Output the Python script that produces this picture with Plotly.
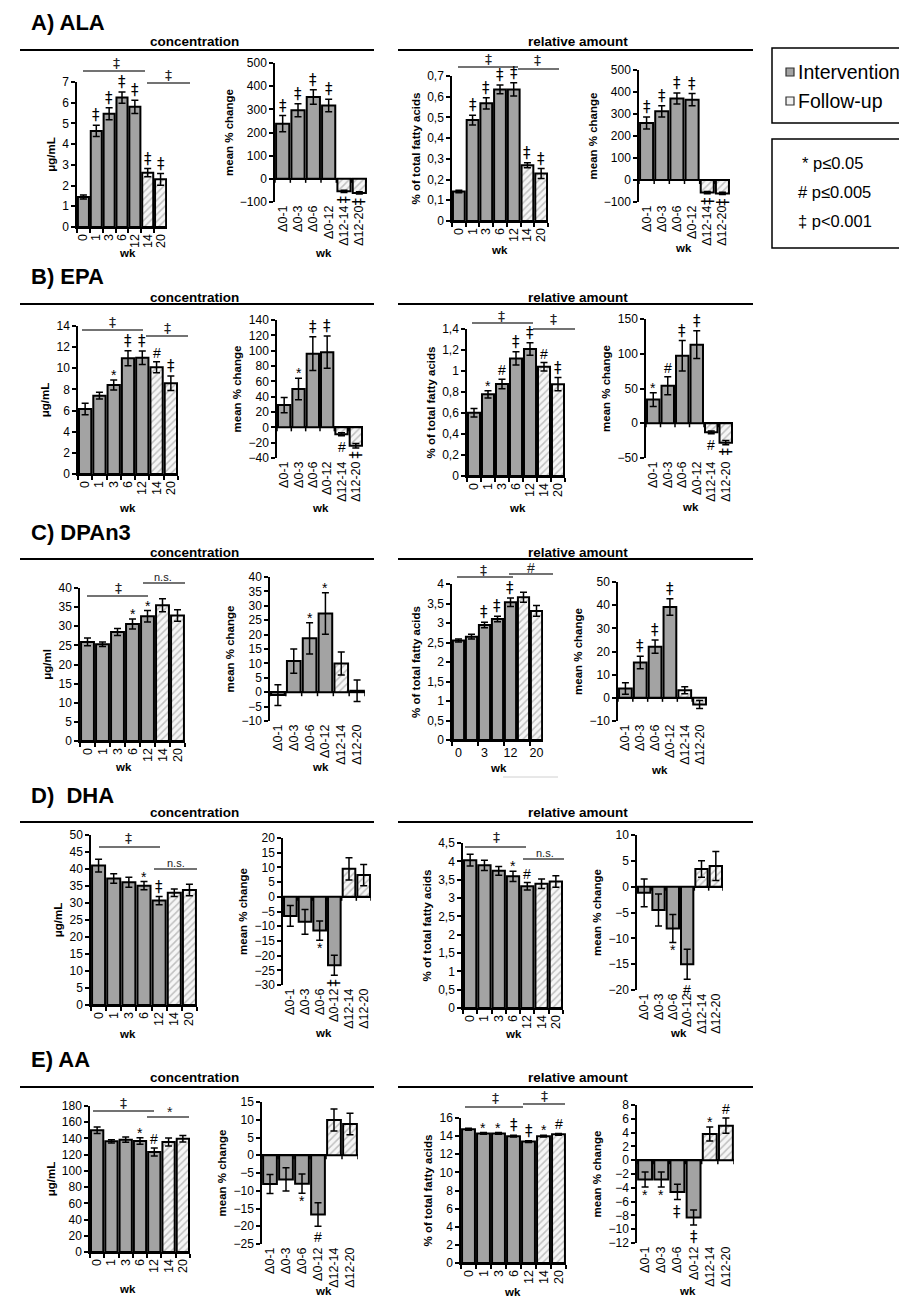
import plotly.graph_objects as go

W, H = 899, 1300
FONT = "Liberation Sans, Arial, sans-serif"
SIGFONT = "DejaVu Sans, Liberation Sans, sans-serif"

# ---------------- data ----------------
weeks = ["0", "1", "3", "6", "12", "14", "20"]
deltas = ["Δ0-1", "Δ0-3", "Δ0-6", "Δ0-12", "Δ12-14", "Δ12-20"]
week_phase = ["Intervention"] * 5 + ["Follow-up"] * 2
delta_phase = ["Intervention"] * 4 + ["Follow-up"] * 2

# A) ALA
ala_conc = [1.45, 4.64, 5.47, 6.25, 5.8, 2.62, 2.3]
ala_conc_err = [0.1, 0.27, 0.29, 0.27, 0.32, 0.2, 0.28]
ala_conc_sig = ["", "‡", "‡", "‡", "‡", "‡", "‡"]
ala_conc_chg = [238, 296, 353, 317, -54, -61]
ala_conc_chg_err = [35, 28, 31, 27, 5, 5]
ala_conc_chg_sig = ["‡", "‡", "‡", "‡", "‡", "‡"]
ala_rel = [0.142, 0.487, 0.568, 0.635, 0.635, 0.269, 0.229]
ala_rel_err = [0.006, 0.024, 0.027, 0.021, 0.032, 0.012, 0.024]
ala_rel_sig = ["", "‡", "‡", "‡", "‡", "‡", "‡"]
ala_rel_chg = [259, 312, 370, 365, -57, -61]
ala_rel_chg_err = [27, 26, 25, 28, 5, 5]
ala_rel_chg_sig = ["‡", "‡", "‡", "‡", "‡", "‡"]

# B) EPA
epa_conc = [6.15, 7.41, 8.42, 10.95, 11.0, 10.1, 8.58]
epa_conc_err = [0.54, 0.32, 0.47, 0.72, 0.64, 0.53, 0.69]
epa_conc_sig = ["", "", "*", "‡", "‡", "#", "‡"]
epa_conc_chg = [29, 50, 96, 98, -9, -24]
epa_conc_chg_err = [10, 14, 22, 21, 2, 3]
epa_conc_chg_sig = ["", "*", "‡", "‡", "#", "‡"]
epa_rel = [0.603, 0.778, 0.877, 1.12, 1.21, 1.04, 0.874]
epa_rel_err = [0.04, 0.035, 0.045, 0.063, 0.06, 0.04, 0.063]
epa_rel_sig = ["", "*", "#", "‡", "‡", "#", "‡"]
epa_rel_chg = [34, 54, 97, 113, -13, -28]
epa_rel_chg_err = [10, 13, 22, 20, 2, 3]
epa_rel_chg_sig = ["*", "#", "‡", "‡", "#", "‡"]

# C) DPAn3
dpa_conc = [25.9, 25.3, 28.5, 30.6, 32.6, 35.5, 32.8]
dpa_conc_err = [1.0, 0.6, 0.9, 1.3, 1.5, 1.7, 1.5]
dpa_conc_sig = ["", "", "", "*", "*", "", ""]
dpa_conc_chg = [-1.0, 10.8, 18.7, 27.3, 10.0, 0.5]
dpa_conc_chg_err = [3.6, 4.2, 5.4, 7.2, 4.0, 3.7]
dpa_conc_chg_sig = ["", "", "*", "*", "", ""]
dpa_rel = [2.55, 2.65, 2.95, 3.1, 3.53, 3.66, 3.31]
dpa_rel_err = [0.04, 0.06, 0.07, 0.07, 0.11, 0.13, 0.14]
dpa_rel_sig = ["", "", "‡", "‡", "‡", "", ""]
dpa_rel_chg = [4.0, 15.3, 22.1, 39.2, 3.3, -2.9]
dpa_rel_chg_err = [2.5, 2.7, 2.9, 3.6, 1.5, 1.7]
dpa_rel_chg_sig = ["", "‡", "‡", "‡", "", ""]

# D) DHA
dha_conc = [41.0, 37.2, 36.1, 35.1, 30.7, 33.0, 33.8]
dha_conc_err = [1.9, 1.4, 1.5, 1.2, 1.2, 1.1, 1.7]
dha_conc_sig = ["", "", "", "*", "‡", "", ""]
dha_conc_chg = [-6.5, -8.5, -11.5, -23.3, 9.5, 7.4]
dha_conc_chg_err = [3.5, 4.2, 3.3, 3.4, 3.8, 3.6]
dha_conc_chg_sig = ["", "", "*", "‡", "", ""]
dha_rel = [4.03, 3.89, 3.74, 3.59, 3.32, 3.39, 3.45]
dha_rel_err = [0.16, 0.14, 0.12, 0.14, 0.1, 0.13, 0.16]
dha_rel_sig = ["", "", "", "*", "#", "", ""]
dha_rel_chg = [-1.2, -4.5, -8.1, -15.0, 3.4, 4.0]
dha_rel_chg_err = [2.7, 3.1, 2.7, 2.9, 1.6, 2.8]
dha_rel_chg_sig = ["", "", "*", "#", "", ""]

# E) AA
aa_conc = [150.0, 136.5, 138.5, 136.9, 123.3, 135.6, 139.7]
aa_conc_err = [4.0, 2.0, 3.3, 4.0, 5.0, 5.0, 4.0]
aa_conc_sig = ["", "", "", "*", "#", "", ""]
aa_conc_chg = [-8.1, -6.8, -8.0, -16.7, 9.9, 8.8]
aa_conc_chg_err = [2.7, 3.3, 2.7, 3.3, 3.1, 3.0]
aa_conc_chg_sig = ["", "", "*", "#", "", ""]
aa_rel = [14.76, 14.3, 14.3, 14.0, 13.4, 14.0, 14.2]
aa_rel_err = [0.1, 0.1, 0.1, 0.1, 0.1, 0.1, 0.1]
aa_rel_sig = ["", "*", "*", "‡", "‡", "*", "#"]
aa_rel_chg = [-2.8, -2.8, -4.6, -8.3, 3.8, 5.0]
aa_rel_chg_err = [1.1, 1.1, 1.1, 1.1, 1.0, 1.1]
aa_rel_chg_sig = ["*", "*", "‡", "‡", "*", "#"]

# ---------------- helpers ----------------
def fx(px):
    return px / W

def fy(py):
    return 1 - py / H

GRAY = "#a3a3a3"
LIGHT = "#f6f6f6"
HATCH = "#8a8a8a"

# panel list: data + layout (pixel boxes x0, x1, ytop, ybottom)
panels = [
    dict(c=weeks, v=ala_conc, e=ala_conc_err, s=ala_conc_sig, box=(77, 167, 82, 227), r=(0, 7), d=1, yt="μg/mL", wk=(127, 253)),
    dict(c=deltas, v=ala_conc_chg, e=ala_conc_chg_err, s=ala_conc_chg_sig, box=(275, 367, 63, 202), r=(-100, 500), d=100, yt="mean % change", wk=(323, 253), rot=True),
    dict(c=weeks, v=ala_rel, e=ala_rel_err, s=ala_rel_sig, box=(452, 548, 76, 221), r=(0, 0.7), d=0.1, yt="% of total fatty acids", wk=(500, 250)),
    dict(c=deltas, v=ala_rel_chg, e=ala_rel_chg_err, s=ala_rel_chg_sig, box=(639, 730, 70, 202), r=(-100, 500), d=100, yt="mean % change", wk=(683, 248), rot=True),

    dict(c=weeks, v=epa_conc, e=epa_conc_err, s=epa_conc_sig, box=(78, 178, 326, 474), r=(0, 14), d=2, yt="μg/mL", wk=(127, 508)),
    dict(c=deltas, v=epa_conc_chg, e=epa_conc_chg_err, s=epa_conc_chg_sig, box=(277, 363, 320, 458), r=(-40, 140), d=20, yt="mean % change", wk=(320, 508), rot=True),
    dict(c=weeks, v=epa_rel, e=epa_rel_err, s=epa_rel_sig, box=(467, 565, 329, 476), r=(0, 1.4), d=0.2, yt="% of total fatty acids", wk=(517, 508)),
    dict(c=deltas, v=epa_rel_chg, e=epa_rel_chg_err, s=epa_rel_chg_sig, box=(646, 733, 319, 458), r=(-50, 150), d=50, yt="mean % change", wk=(690, 507), rot=True),

    dict(c=weeks, v=dpa_conc, e=dpa_conc_err, s=dpa_conc_sig, box=(80, 185, 588, 741), r=(0, 40), d=5, yt="μg/ml", wk=(123, 767)),
    dict(c=deltas, v=dpa_conc_chg, e=dpa_conc_chg_err, s=dpa_conc_chg_sig, box=(270, 365, 577, 721), r=(-10, 40), d=5, yt="mean % change", wk=(320, 767)),
    dict(c=weeks, v=dpa_rel, e=dpa_rel_err, s=dpa_rel_sig, box=(452, 543, 584, 740), r=(0, 4), d=0.5, yt="% of total fatty acids", wk=(498, 768), sparse=True),
    dict(c=deltas, v=dpa_rel_chg, e=dpa_rel_chg_err, s=dpa_rel_chg_sig, box=(618, 707, 582, 721), r=(-10, 50), d=10, yt="mean % change", wk=(659, 770)),

    dict(c=weeks, v=dha_conc, e=dha_conc_err, s=dha_conc_sig, box=(91, 197, 835, 1005), r=(0, 50), d=5, yt="μg/mL", wk=(127, 1034)),
    dict(c=deltas, v=dha_conc_chg, e=dha_conc_chg_err, s=dha_conc_chg_sig, box=(283, 371, 838, 985), r=(-30, 20), d=5, yt="mean % change", wk=(323, 1033), rot=True),
    dict(c=weeks, v=dha_rel, e=dha_rel_err, s=dha_rel_sig, box=(463, 563, 843, 1008), r=(0, 4.5), d=0.5, yt="% of total fatty acids", wk=(513, 1034)),
    dict(c=deltas, v=dha_rel_chg, e=dha_rel_chg_err, s=dha_rel_chg_sig, box=(637, 723, 835, 990), r=(-20, 10), d=5, yt="mean % change", wk=(678, 1033)),

    dict(c=weeks, v=aa_conc, e=aa_conc_err, s=aa_conc_sig, box=(90, 190, 1106, 1252), r=(0, 180), d=20, yt="μg/mL", wk=(127, 1289)),
    dict(c=deltas, v=aa_conc_chg, e=aa_conc_chg_err, s=aa_conc_chg_sig, box=(262, 358, 1102, 1244), r=(-25, 15), d=5, yt="mean % change", wk=(323, 1291)),
    dict(c=weeks, v=aa_rel, e=aa_rel_err, s=aa_rel_sig, box=(461, 566, 1118, 1263), r=(0, 16), d=2, yt="% of total fatty acids", wk=(512, 1292)),
    dict(c=deltas, v=aa_rel_chg, e=aa_rel_chg_err, s=aa_rel_chg_sig, box=(637, 734, 1105, 1243), r=(-12, 8), d=2, yt="mean % change", wk=(687, 1291)),
]

fig = go.Figure()
layout = {}
annotations = []
shapes = []

for i, p in enumerate(panels, start=1):
    xa = "x" if i == 1 else f"x{i}"
    ya = "y" if i == 1 else f"y{i}"
    cats = p["c"]
    n = len(cats)
    change = cats is deltas
    phases = delta_phase if change else week_phase
    for phase, color, shape in [("Intervention", GRAY, ""), ("Follow-up", LIGHT, "/")]:
        idx = [k for k, ph in enumerate(phases) if ph == phase]
        fig.add_trace(go.Bar(
            x=[cats[k] for k in idx],
            y=[p["v"][k] for k in idx],
            name=phase,
            error_y=dict(type="data", array=[p["e"][k] for k in idx], color="black", thickness=1.5, width=3.5),
            marker=dict(color=color, line=dict(color="black", width=2),
                        pattern=dict(shape=shape, fgcolor=HATCH, bgcolor=LIGHT, size=5, solidity=0.3)),
            xaxis=xa, yaxis=ya, showlegend=False,
        ))
    x0, x1, yt0, yb0 = p["box"]
    xdict = dict(
        domain=[fx(x0), fx(x1)], anchor=ya, type="category",
        categoryorder="array", categoryarray=cats, range=[-0.5, n - 0.5],
        tickmode="linear", tick0=0, dtick=1,
        tickangle=-90, tickfont=dict(size=12.5, color="black", family=FONT),
        showgrid=False, zeroline=False, automargin=False, fixedrange=True,
    )
    if change:
        xdict.update(showline=False, ticks="")
    else:
        xdict.update(showline=True, linecolor="black", linewidth=2, ticks="outside",
                     tickson="boundaries", ticklen=4, tickwidth=1.5, tickcolor="black")
    if p.get("sparse"):
        xdict.update(tickmode="linear", tick0=0, dtick=2, tickangle=0)
    ydict = dict(
        domain=[fy(yb0), fy(yt0)], anchor=xa, range=list(p["r"]), dtick=p["d"], tick0=0,
        showline=True, linecolor="black", linewidth=1.5, ticks="outside", ticklen=4,
        tickwidth=1.5, tickcolor="black", showgrid=False,
        zeroline=change, zerolinecolor="black", zerolinewidth=2,
        tickfont=dict(size=12, color="black", family=FONT),
        title=dict(text=f"<b>{p['yt']}</b>", font=dict(size=11.5, color="black", family=FONT), standoff=4),
        automargin=False, fixedrange=True,
    )
    layout["xaxis" if i == 1 else f"xaxis{i}"] = xdict
    layout["yaxis" if i == 1 else f"yaxis{i}"] = ydict

    # zero-line tick marks for change panels
    if change:
        for k in range(n + 1):
            shapes.append(dict(type="line", xref=xa, yref=ya, x0=k - 0.5, x1=k - 0.5,
                               ysizemode="pixel", yanchor=0, y0=0, y1=-4,
                               line=dict(color="black", width=1.5)))

    # "wk" label
    annotations.append(dict(text="<b>wk</b>", xref="paper", yref="paper", x=fx(p["wk"][0]), y=fy(p["wk"][1]),
                            showarrow=False, font=dict(size=11.5, color="black", family=FONT),
                            xanchor="center", yanchor="middle"))

    # significance marks on bars (x given as category index)
    for k in range(n):
        s = p["s"][k]
        if not s:
            continue
        v, e = p["v"][k], p["e"][k]
        below = v < 0
        ann = dict(text=s, xref=xa, yref=ya, x=k, showarrow=False,
                   font=dict(size=15 if s == "‡" else 14, color="black",
                             family=SIGFONT if s == "‡" else FONT),
                   xanchor="center")
        if below:
            ann.update(y=v - e, yanchor="top", yshift=-1 if s != "*" else 2)
            if p.get("rot") and s == "‡":
                ann.update(textangle=-90, yshift=-1)
        else:
            ann.update(y=v + e, yanchor="bottom", yshift=-1 if s != "*" else -5)
        annotations.append(ann)

# ---------------- row titles / headers ----------------
row_titles = ["A) ALA", "B) EPA", "C) DPAn3", "D)  DHA", "E) AA"]
title_y = [22, 277, 532, 795, 1059]
header_text_y = [42, 297, 552, 812, 1077]
header_line_y = [50, 304, 559, 822, 1087]

for t, ty, hy, ly in zip(row_titles, title_y, header_text_y, header_line_y):
    annotations.append(dict(text=f"<b>{t}</b>", xref="paper", yref="paper", x=fx(29), y=fy(ty),
                            xanchor="left", yanchor="middle", showarrow=False,
                            font=dict(size=22, color="black", family=FONT)))
    for txt, xa0, xa1 in [("concentration", 20, 364), ("relative amount", 398, 753)]:
        annotations.append(dict(text=f"<b>{txt}</b>", xref="paper", yref="paper", x=fx((xa0 + xa1) / 2 + 2),
                                y=fy(hy), xanchor="center", yanchor="middle", showarrow=False,
                                font=dict(size=13.5, color="black", family=FONT)))
        shapes.append(dict(type="line", xref="paper", yref="paper", x0=fx(xa0), x1=fx(xa1 + (10 if xa0 == 20 else 0)),
                           y0=fy(ly), y1=fy(ly), line=dict(color="black", width=2)))

# ---------------- significance brackets (pixel layout) ----------------
brackets = [
    (83, 145, 71, "‡", 117, 63), (147, 190, 83, "‡", 168, 75),
    (458, 518, 67, "‡", 488, 59), (518, 559, 69, "‡", 537, 60),
    (82, 143, 330, "‡", 113, 322), (146, 188, 336, "‡", 167, 328),
    (472, 533, 323, "‡", 502, 316), (533, 575, 329, "‡", 553, 319),
    (87, 148, 596, "‡", 118, 588), (143, 185, 583, "n.s.", 163, 577),
    (457, 513, 577, "‡", 483, 570), (509, 553, 574, "#", 531, 568),
    (99, 160, 847, "‡", 128, 838), (154, 197, 869, "n.s.", 176, 863),
    (465, 526, 847, "‡", 496, 837), (523, 564, 859, "n.s.", 545, 853),
    (93, 154, 1111, "‡", 123, 1103), (147, 189, 1117, "*", 170, 1112),
    (465, 523, 1107, "‡", 495, 1098), (523, 565, 1104, "‡", 544, 1096),
]
for bx0, bx1, by, lab, lx, lyy in brackets:
    shapes.append(dict(type="line", xref="paper", yref="paper", x0=fx(bx0), x1=fx(bx1), y0=fy(by), y1=fy(by),
                       line=dict(color="#444444", width=1.3)))
    annotations.append(dict(text=lab, xref="paper", yref="paper", x=fx(lx), y=fy(lyy),
                            xanchor="center", yanchor="middle", showarrow=False,
                            font=dict(size=11 if lab == "n.s." else 14,
                                      color="#222222", family=SIGFONT if lab == "‡" else FONT)))

# faint stray line under C3 "wk"
shapes.append(dict(type="line", xref="paper", yref="paper", x0=fx(503), x1=fx(558), y0=fy(777), y1=fy(777),
                   line=dict(color="#d0d0d0", width=1)))

# ---------------- legend boxes ----------------
legend_items = ["Intervention", "Follow-up"]
legend_colors = [GRAY, "#f0f0f0"]
legend_y = [72, 101]
sig_items = ["* p≤0.05", "# p≤0.005", "‡ p<0.001"]
sig_x = [800, 796, 796]
sig_y = [163, 192, 221]

shapes.append(dict(type="rect", xref="paper", yref="paper", x0=fx(772), x1=fx(910), y0=fy(48), y1=fy(123),
                   line=dict(color="black", width=1.5), fillcolor="rgba(0,0,0,0)"))
shapes.append(dict(type="rect", xref="paper", yref="paper", x0=fx(772), x1=fx(910), y0=fy(139), y1=fy(248),
                   line=dict(color="black", width=1.5), fillcolor="rgba(0,0,0,0)"))
for lab, col, ly in zip(legend_items, legend_colors, legend_y):
    shapes.append(dict(type="rect", xref="paper", yref="paper", x0=fx(786), x1=fx(794), y0=fy(ly + 4), y1=fy(ly - 4),
                       line=dict(color="#333333", width=1.2), fillcolor=col))
    annotations.append(dict(text=lab, xref="paper", yref="paper", x=fx(796), y=fy(ly), xanchor="left",
                            yanchor="middle", showarrow=False, font=dict(size=19.5, color="black", family=FONT)))
for lab, sx, sy in zip(sig_items, sig_x, sig_y):
    annotations.append(dict(text=lab, xref="paper", yref="paper", x=fx(sx), y=fy(sy), xanchor="left",
                            yanchor="middle", showarrow=False, font=dict(size=16.5, color="black", family=FONT)))

fig.update_layout(
    width=W, height=H, margin=dict(l=0, r=0, t=0, b=0),
    paper_bgcolor="white", plot_bgcolor="rgba(0,0,0,0)",
    barmode="overlay", bargap=0.14, separators=",.",
    font=dict(family=FONT, color="black"),
    showlegend=False,
    annotations=annotations, shapes=shapes,
    **layout,
)

fig.write_html(
    "out.html",
    config={"displayModeBar": False},
    post_script="document.body.style.margin='0';document.body.style.overflow='hidden';"
                "document.documentElement.style.overflow='hidden';",
)
